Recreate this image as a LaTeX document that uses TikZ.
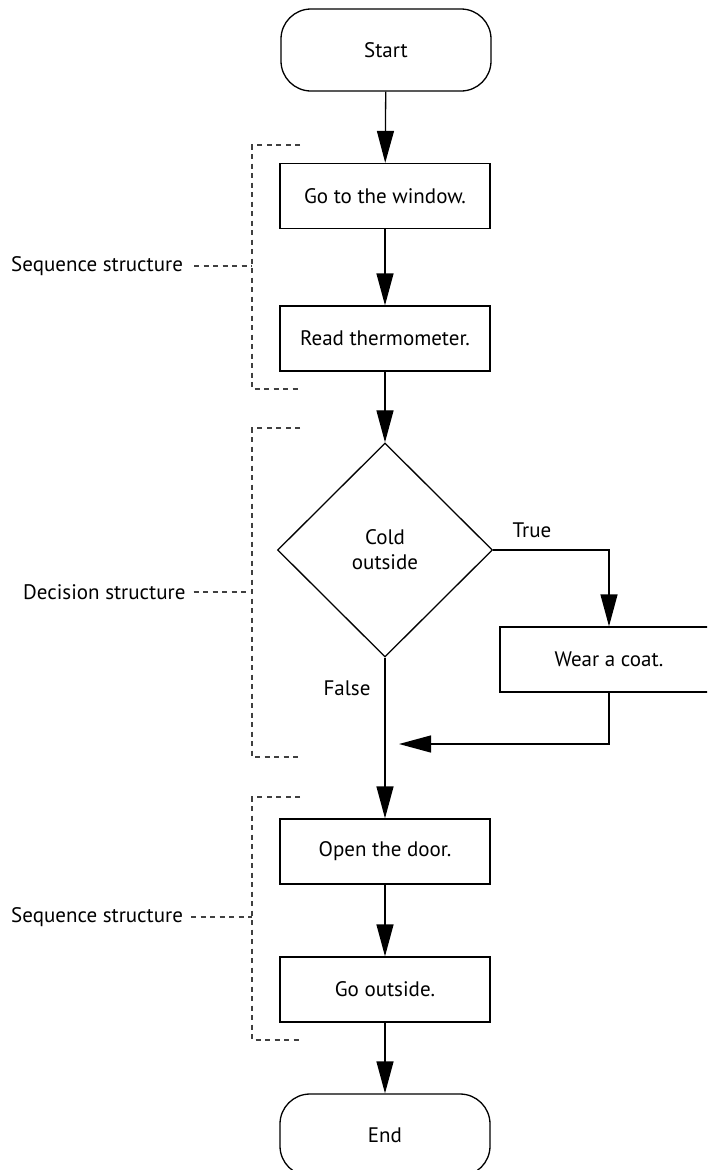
\documentclass[tikz,border=0pt]{standalone}
\usepackage{fontspec}
\setmainfont{PT Sans}
\usetikzlibrary{arrows.meta,shapes.geometric}
\tikzset{
  box/.style={draw, line width=1.3pt, minimum width=210pt, minimum height=65pt, inner sep=0pt, font=\fontsize{21}{25}\selectfont, align=center},
  term/.style={box, rounded corners=30pt, minimum height=82pt},
  dec/.style={draw, diamond, aspect=1, line width=1.3pt, minimum width=215pt, minimum height=214pt, inner sep=0pt, font=\fontsize{21}{25}\selectfont, align=center},
  arr/.style={line width=1.3pt, -{Triangle[length=32pt,width=17pt]}},
  dsh/.style={line width=1.2pt, draw=black!75, dash pattern=on 5pt off 4.5pt},
  lab/.style={font=\fontsize{21}{25}\selectfont, inner sep=0pt},
}
\begin{document}
\begin{tikzpicture}[x=1pt,y=-1pt]
\clip (0,0) rectangle (707,1170);
\fill[white] (0,0) rectangle (707,1170);
% main nodes
\node[term] (start) at (386,50) {Start};
\node[box] (go) at (385,196) {Go to the window.};
\node[box] (read) at (385,338.5) {Read thermometer.};
\node[dec] (cold) at (385,550) {Cold\\outside};
\node[box, minimum width=218pt] (coat) at (609,659.5) {Wear a coat.};
\node[box] (open) at (385,851.5) {Open the door.};
\node[box] (out) at (385,989.5) {Go outside.};
\node[term] (end) at (385,1135) {End};
\coordinate (ret) at (399,744);
% connectors
\draw[arr] (start) -- (go);
\draw[arr] (go) -- (read);
\draw[arr] (read) -- (cold);
\draw[arr] (cold.east) -| (coat.north);
\draw[arr] (coat.south) |- (ret);
\draw[arr] (cold.south) -- (open.north);
\draw[arr] (open) -- (out);
\draw[arr] (out) -- (end);
% branch labels
\node[lab] (t) at (532,530) {True};
\node[lab] (f) at (347,688) {False};
% brackets
\node[lab, anchor=west] (s1) at (11,266) {Sequence structure};
\draw[dsh] (300,145) -| (252,389) -- (300,389);
\draw[dsh] ([xshift=11pt]s1.east) -- (252,266);
\node[lab, anchor=west] (d1) at (23,592) {Decision structure};
\draw[dsh] (300,428) -| (252,757) -- (300,757);
\draw[dsh] ([xshift=8pt]d1.east) -- (252,592);
\node[lab, anchor=west] (s2) at (11,917) {Sequence structure};
\draw[dsh] (300,797) -| (252,1040) -- (300,1040);
\draw[dsh] ([xshift=8pt]s2.east) -- (252,917);
\end{tikzpicture}
\end{document}
